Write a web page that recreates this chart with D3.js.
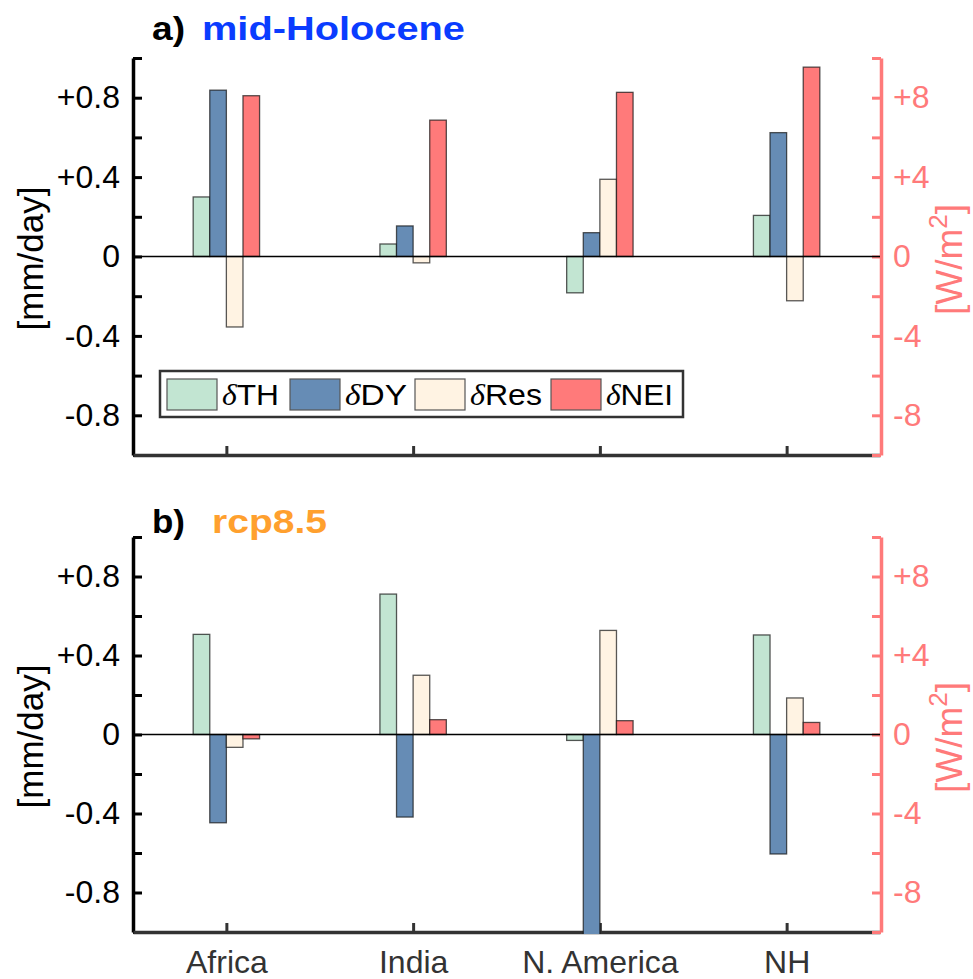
<!DOCTYPE html>
<html>
<head>
<meta charset="utf-8">
<script src="https://d3js.org/d3.v7.min.js"></script>
<style>
  body { margin: 0; background: #fff; }
  svg text { font-family: "Liberation Sans", Arial, sans-serif; }
</style>
</head>
<body>
<script>
// regions on the x axis
var regions = ["Africa", "India", "N. America", "NH"];

// a) mid-Holocene  (TH, DY, Res in mm/day, NEI in W/m2)
var midHolTH  = [0.30, 0.063, -0.183, 0.207];
var midHolDY  = [0.838, 0.154, 0.12, 0.624];
var midHolRes = [-0.355, -0.032, 0.389, -0.223];
var midHolNEI = [8.10, 6.87, 8.27, 9.54];

// b) rcp8.5
var rcpTH  = [0.507, 0.711, -0.03, 0.504];
var rcpDY  = [-0.447, -0.418, -1.25, -0.605];
var rcpRes = [-0.065, 0.30, 0.527, 0.185];
var rcpNEI = [-0.22, 0.75, 0.70, 0.61];

var seriesNames = ["TH", "DY", "Res", "NEI"];
var seriesColors = ["#c2e5d2", "#668cb5", "#fff3e3", "#ff7a7a"];

var leftTicks = [-0.8, -0.4, 0, 0.4, 0.8];
var leftTickLabels = ["-0.8", "-0.4", "0", "+0.4", "+0.8"];
var rightTicks = [-8, -4, 0, 4, 8];
var rightTickLabels = ["-8", "-4", "0", "+4", "+8"];

var W = 973, H = 979;
var left = 133, right = 880;
var nei = "#ff7a7a";

var svg = d3.select("body").append("svg")
    .attr("width", W)
    .attr("height", H);

var x = d3.scaleLinear().domain([0.5, 4.5]).range([left, right]);
var barW = 0.0889; // in category units

var panels = [
  {top: 58, bottom: 455, letter: "a)", name: "mid-Holocene", color: "#0a3cff",
   titleY: 40, nameX: 202, nameLen: 263, data: [midHolTH, midHolDY, midHolRes, midHolNEI], xlabels: false, legend: true},
  {top: 537, bottom: 932, letter: "b)", name: "rcp8.5", color: "#ffa02e",
   titleY: 533, nameX: 212, nameLen: 115, data: [rcpTH, rcpDY, rcpRes, rcpNEI], xlabels: true, legend: false}
];

panels.forEach(function(p, pi) {
  var y = d3.scaleLinear().domain([-1, 1]).range([p.bottom, p.top]);
  var yR = d3.scaleLinear().domain([-10, 10]).range([p.bottom, p.top]);
  var g = svg.append("g");

  // left axis
  var la = g.append("g")
      .attr("transform", "translate(" + left + ",0)")
      .call(d3.axisLeft(y)
        .tickValues(d3.range(-10, 11, 2).map(function(d) { return d / 10; }))
        .tickSizeInner(-9).tickSizeOuter(0).tickPadding(13)
        .tickFormat(function(d) {
          var i = leftTicks.findIndex(function(t) { return Math.abs(t - d) < 1e-9; });
          return i < 0 ? "" : leftTickLabels[i];
        }));
  la.select(".domain").attr("stroke", "#000").attr("stroke-width", 3.5);
  la.selectAll(".tick line").attr("stroke", "#000").attr("stroke-width", 3);
  la.selectAll(".tick text").attr("fill", "#000").style("font-size", "32px");

  // bottom axis
  var ba = g.append("g")
      .attr("transform", "translate(0," + p.bottom + ")")
      .call(d3.axisBottom(x).tickValues([1, 2, 3, 4])
        .tickSizeInner(-9).tickSizeOuter(0).tickPadding(18)
        .tickFormat(function(d) { return p.xlabels ? regions[d - 1] : ""; }));
  ba.select(".domain").attr("stroke", "#333").attr("stroke-width", 3.5);
  ba.selectAll(".tick line").attr("stroke", "#333").attr("stroke-width", 3);
  ba.selectAll(".tick text").attr("fill", "#333").style("font-size", "32px");

  // right axis (NEI)
  var ra = g.append("g")
      .attr("transform", "translate(" + (right + 1) + ",0)")
      .call(d3.axisRight(yR).tickValues(d3.range(-10, 11, 2))
        .tickSizeInner(-9).tickSizeOuter(0).tickPadding(12)
        .tickFormat(function(d) {
          var i = rightTicks.indexOf(d);
          return i < 0 ? "" : rightTickLabels[i];
        }));
  ra.select(".domain").attr("stroke", nei).attr("stroke-width", 3.5);
  ra.selectAll(".tick line").attr("stroke", nei).attr("stroke-width", 3);
  ra.selectAll(".tick text").attr("fill", nei).style("font-size", "32px");

  // bars
  var clipId = "clip" + pi;
  svg.append("clipPath").attr("id", clipId)
    .append("rect").attr("x", left).attr("y", p.top).attr("width", right - left).attr("height", p.bottom - p.top + 2);

  var bars = [];
  p.data.forEach(function(vals, si) {
    vals.forEach(function(v, ci) {
      bars.push({s: si, c: ci, v: v});
    });
  });

  g.append("g").attr("clip-path", "url(#" + clipId + ")")
    .selectAll("rect").data(bars).enter().append("rect")
      .attr("x", function(d) { return x(d.c + 1 + (d.s - 2) * barW); })
      .attr("width", x(1 + barW) - x(1))
      .attr("y", function(d) {
        var sc = d.s === 3 ? yR : y;
        return Math.min(sc(d.v), sc(0));
      })
      .attr("height", function(d) {
        var sc = d.s === 3 ? yR : y;
        return Math.abs(sc(d.v) - sc(0));
      })
      .attr("fill", function(d) { return seriesColors[d.s]; })
      .attr("stroke", "#111")
      .attr("stroke-opacity", 0.7)
      .attr("stroke-width", 1.3);

  // zero line
  g.append("line")
    .attr("x1", left).attr("x2", right)
    .attr("y1", y(0)).attr("y2", y(0))
    .attr("stroke", "#000").attr("stroke-width", 1.6);

  // axis labels
  g.append("text")
    .attr("transform", "translate(43," + (y(0) + 2) + ") rotate(-90)")
    .attr("text-anchor", "middle")
    .style("font-size", "35px")
    .attr("fill", "#000")
    .text("[mm/day]");

  var rl = g.append("text")
    .attr("transform", "translate(962," + (y(0) + 3) + ") rotate(-90)")
    .attr("text-anchor", "middle")
    .style("font-size", "37px")
    .attr("fill", nei);
  rl.append("tspan").text("[W/m");
  rl.append("tspan").attr("dy", -15).style("font-size", "26px").text("2");
  rl.append("tspan").attr("dy", 15).text("]");

  // panel title
  g.append("text")
    .attr("x", 152).attr("y", p.titleY)
    .attr("textLength", 33).attr("lengthAdjust", "spacingAndGlyphs")
    .style("font-size", "33px").style("font-weight", "bold")
    .attr("fill", "#000")
    .text(p.letter);
  g.append("text")
    .attr("x", p.nameX).attr("y", p.titleY)
    .attr("textLength", p.nameLen).attr("lengthAdjust", "spacingAndGlyphs")
    .style("font-size", "33px").style("font-weight", "bold")
    .attr("fill", p.color)
    .text(p.name);

  // legend
  if (p.legend) {
    var lg = g.append("g");
    lg.append("rect")
      .attr("x", 160).attr("y", 371).attr("width", 523).attr("height", 46)
      .attr("fill", "#fff").attr("stroke", "#333").attr("stroke-width", 2.5);
    var itemX = [167, 290, 415, 551];
    var textLen = [57, 62, 72, 67];
    seriesNames.forEach(function(n, i) {
      lg.append("rect")
        .attr("x", itemX[i]).attr("y", 379).attr("width", 50).attr("height", 31)
        .attr("fill", seriesColors[i]).attr("stroke", "#555").attr("stroke-width", 1.2);
      var t = lg.append("text")
        .attr("x", itemX[i] + 55).attr("y", 405)
        .attr("textLength", textLen[i]).attr("lengthAdjust", "spacingAndGlyphs")
        .style("font-size", "29px").attr("fill", "#000");
      t.append("tspan").style("font-family", "'Liberation Serif', serif").style("font-style", "italic").text("δ");
      t.append("tspan").text(n);
    });
  }
});
</script>
</body>
</html>
